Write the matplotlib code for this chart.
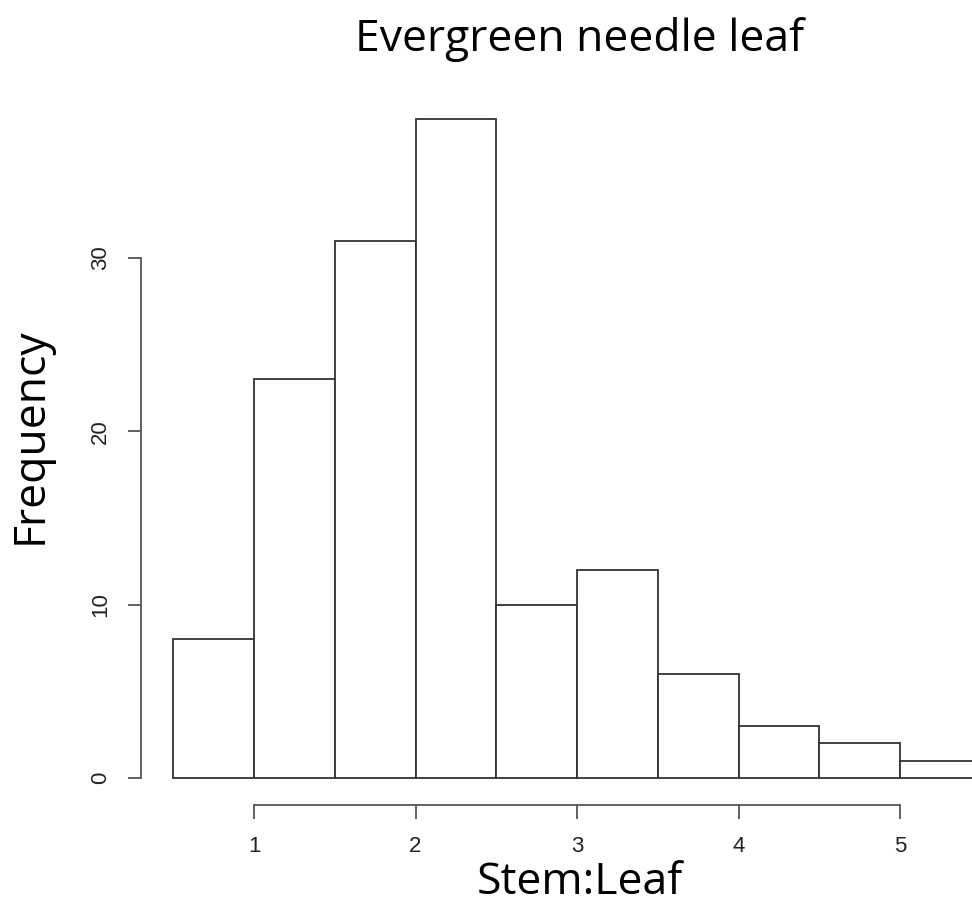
import matplotlib
matplotlib.use("Agg")
import matplotlib.pyplot as plt

# histogram bins of stem:leaf ratio (width 0.5) and their counts
bin_edges = [0.5, 1.0, 1.5, 2.0, 2.5, 3.0, 3.5, 4.0, 4.5, 5.0, 5.5]
counts = [8, 23, 31, 38, 10, 12, 6, 3, 2, 1]
xticks = [1, 2, 3, 4, 5]
yticks = [0, 10, 20, 30]

W, H = 972, 923
fig = plt.figure(figsize=(W / 100, H / 100), dpi=100)

# axes box in pixel terms: y-axis at x=141, x-axis line at y=805
left, right, top, bottom = 141, 972, 100, 805
ax = fig.add_axes([left / W, (H - bottom) / H, (right - left) / W, (bottom - top) / H])

px_per_x = 161.5
px_per_y = 17.33
ax.set_xlim(1 + (left - 254) / px_per_x, 1 + (right - 254) / px_per_x)
ax.set_ylim((778 - bottom) / px_per_y, (778 - top) / px_per_y)

widths = [b - a for a, b in zip(bin_edges[:-1], bin_edges[1:])]
ax.bar(bin_edges[:-1], counts, width=widths, align="edge",
       facecolor="white", edgecolor="#333333", linewidth=1.3)

line_col = "#555555"
for side in ("top", "right"):
    ax.spines[side].set_visible(False)
ax.spines["left"].set_bounds(yticks[0], yticks[-1])
ax.spines["bottom"].set_bounds(xticks[0], xticks[-1])
for side in ("left", "bottom"):
    ax.spines[side].set_color(line_col)
    ax.spines[side].set_linewidth(1.3)

tick_font = {"family": ["Liberation Sans", "DejaVu Sans"], "size": 16}
ax.set_xticks(xticks)
ax.set_xticklabels([str(t) for t in xticks], fontdict=tick_font, color="#222222")
ax.set_yticks(yticks)
ax.set_yticklabels([str(t) for t in yticks], fontdict=tick_font, color="#222222",
                   rotation=90, va="center")
ax.tick_params(axis="x", length=10, width=1.3, color=line_col, pad=12)
ax.tick_params(axis="y", length=9.5, width=1.3, color=line_col, pad=12)

label_font = ["Open Sans", "DejaVu Sans"]
fig.text(580 / W, 1 - 39 / H, "Evergreen needle leaf", family=label_font,
         fontsize=32, ha="center", va="center")
fig.text(580 / W, 1 - 883 / H, "Stem:Leaf", family=label_font,
         fontsize=32, ha="center", va="center")
fig.text(30 / W, 1 - 436 / H, "Frequency", family=label_font,
         fontsize=32, ha="center", va="center", rotation=90)

fig.savefig("out.png", dpi=100, facecolor="white")
